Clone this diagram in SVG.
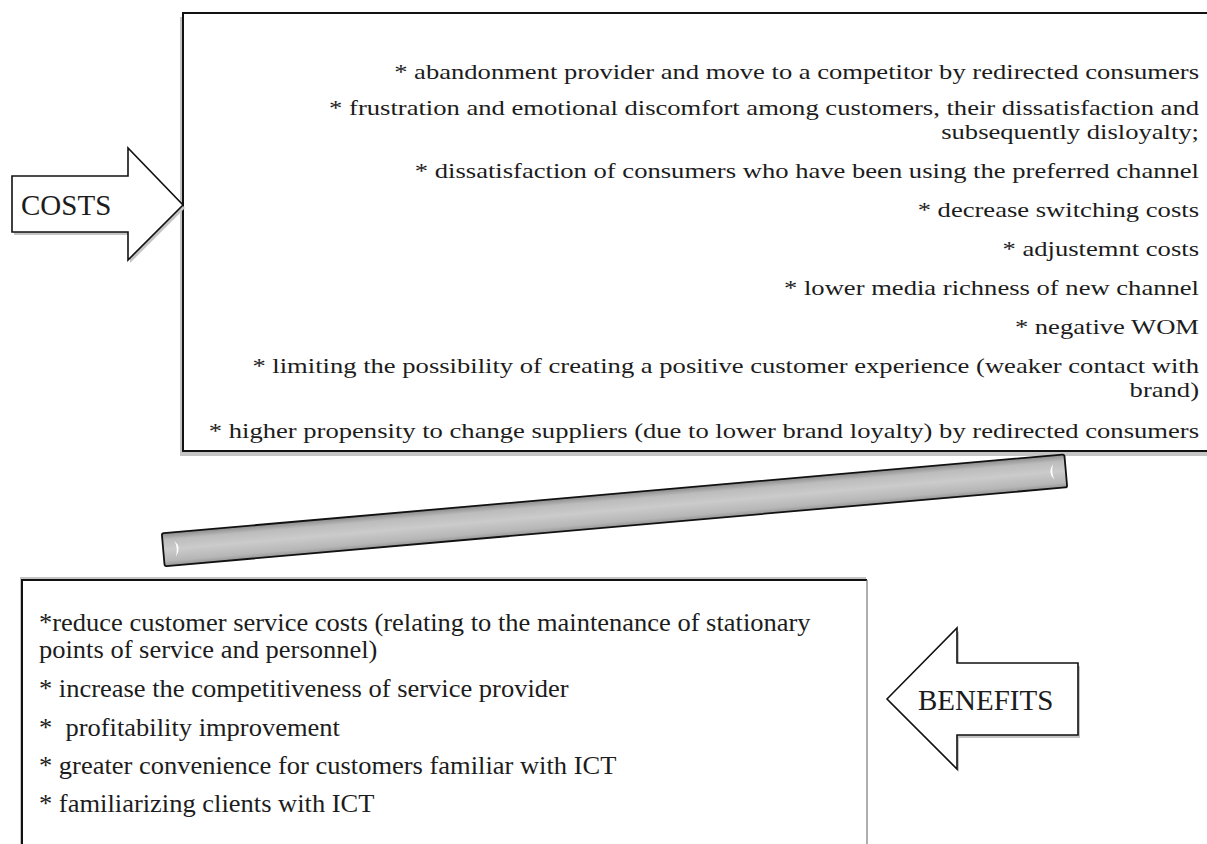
<svg xmlns="http://www.w3.org/2000/svg" width="1207" height="844" viewBox="0 0 1207 844">
<style>
  .shadow { fill: #c4c4c4; }
  .box { fill: #ffffff; }
  .edge { fill: none; stroke: #111; stroke-width: 2; }
  .arrow { fill: #ffffff; stroke: #111; stroke-width: 1.6; stroke-linejoin: miter; }
  .txt { font-family: "Liberation Serif", "Times New Roman", serif; fill: #1c1c1c; }
  .top { font-size: 21px; text-anchor: end; }
  .bot { font-size: 25px; }
  .lbl { font-size: 29px; }
</style>
<defs>
  <linearGradient id="barGrad" x1="0" y1="0" x2="0" y2="1">
    <stop offset="0" stop-color="#8a8a8a"/>
    <stop offset="0.2" stop-color="#bcbcbc"/>
    <stop offset="0.5" stop-color="#cbcbcb"/>
    <stop offset="0.85" stop-color="#b6b6b6"/>
    <stop offset="1" stop-color="#959595"/>
  </linearGradient>
</defs>

<g id="costs-box">
  <rect class="shadow" x="180" y="17" width="1050" height="439"/>
  <rect class="box" x="183" y="13" width="1040" height="438"/>
  <path class="edge" d="M1215 13 H183 V451 H1215"/>
  <g class="txt top" transform="translate(1199 0) scale(1.267 1)">
    <text x="0" y="79">* abandonment provider and move to a competitor by redirected consumers</text>
    <text x="0" y="115">* frustration and emotional discomfort among customers, their dissatisfaction and</text>
    <text x="0" y="139">subsequently disloyalty;</text>
    <text x="0" y="178">* dissatisfaction of consumers who have been using the preferred channel</text>
    <text x="0" y="217">* decrease switching costs</text>
    <text x="0" y="256">* adjustemnt costs</text>
    <text x="0" y="295">* lower media richness of new channel</text>
    <text x="0" y="334">* negative WOM</text>
    <text x="0" y="373">* limiting the possibility of creating a positive customer experience (weaker contact with</text>
    <text x="0" y="397">brand)</text>
    <text x="0" y="438">* higher propensity to change suppliers (due to lower brand loyalty) by redirected consumers</text>
  </g>
</g>

<g id="costs-arrow">
  <polygon class="shadow" points="14,179 130,179 130,151 185,208 130,263 130,235 14,235"/>
  <polygon class="arrow" points="12,176 128,176 128,148 183,205 128,260 128,232 12,232"/>
  <text class="txt lbl" x="21" y="215">COSTS</text>
</g>

<g id="benefits-box">
  <rect class="shadow" x="20" y="577" width="846" height="280"/>
  <rect class="box" x="22" y="580" width="845" height="280"/>
  <path class="edge" d="M22 850 V580 H867"/>
  <path d="M867 580 V850" fill="none" stroke="#777" stroke-width="1.2"/>
  <g class="txt bot" transform="translate(39 0) scale(1.06 1)">
    <text x="0" y="631">*reduce customer service costs (relating to the maintenance of stationary</text>
    <text x="0" y="658">points of service and personnel)</text>
    <text x="0" y="697">* increase the competitiveness of service provider</text>
    <text x="0" y="736" xml:space="preserve">*  profitability improvement</text>
    <text x="0" y="774">* greater convenience for customers familiar with ICT</text>
    <text x="0" y="812">* familiarizing clients with ICT</text>
  </g>
</g>

<g id="benefits-arrow">
  <polygon class="shadow" points="889,702 959,631 959,666 1080,666 1080,738 959,738 959,772"/>
  <polygon class="arrow" points="887,699 957,628 957,663 1078,663 1078,735 957,735 957,769"/>
  <text class="txt lbl" x="918" y="710">BENEFITS</text>
</g>

<g id="connectors">
  <g transform="translate(614.5 510.3) rotate(-5)">
    <rect x="-453" y="-16.5" width="906" height="33" rx="2" fill="url(#barGrad)" stroke="#111" stroke-width="1.8"/>
    <path d="M-441 -8 Q-434 0 -441 8 Q-438 0 -441 -8 Z" fill="#ffffff"/>
    <path d="M441 -8 Q434 0 441 8 Q438 0 441 -8 Z" fill="#ffffff"/>
  </g>
</g>
</svg>
